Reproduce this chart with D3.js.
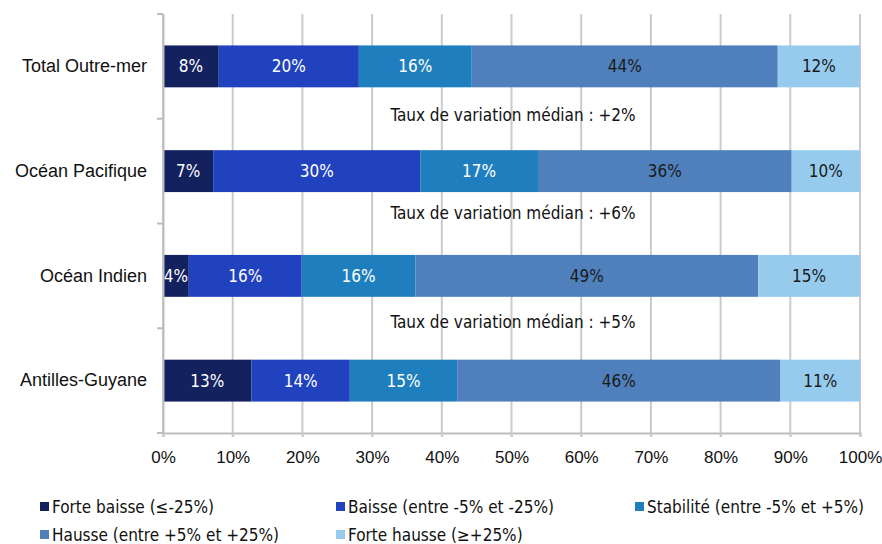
<!DOCTYPE html>
<html>
<head>
<meta charset="utf-8">
<script src="https://cdn.jsdelivr.net/npm/d3@7"></script>
<style>
  body { margin: 0; background: #fff; }
  svg { font-family: "DejaVu Sans Condensed", "DejaVu Sans", sans-serif; }
</style>
</head>
<body>
<div id="chart"></div>
<script>
// categories (top to bottom)
var categories = ['Total Outre-mer', 'Océan Pacifique', 'Océan Indien', 'Antilles-Guyane']
var seriesNames = [
  'Forte baisse (≤-25%)',
  'Baisse (entre -5% et -25%)',
  'Stabilité (entre -5% et +5%)',
  'Hausse (entre +5% et +25%)',
  'Forte hausse (≥+25%)'
]
// share of each series per category (%)
var forteBaisse  = [8.0, 7.2, 3.7, 12.7]
var baisse       = [20.1, 29.7, 16.2, 14.1]
var stabilite    = [16.2, 16.9, 16.3, 15.4]
var hausse       = [43.9, 36.4, 49.2, 46.4]
var forteHausse  = [11.8, 9.8, 14.6, 11.4]
var medianLabels = ['Taux de variation médian : +2%', 'Taux de variation médian : +6%', 'Taux de variation médian : +5%']
var xTicks = [0, 10, 20, 30, 40, 50, 60, 70, 80, 90, 100]

var colors = ['#13215f', '#2142be', '#1f7fbe', '#4f80bc', '#96cbee']
var labelColors = ['#fff', '#fff', '#fff', '#1a1a1a', '#1a1a1a']

var width = 882, height = 544
var margin = { left: 163, right: 22, top: 14, bottom: 111 }
var innerW = width - margin.left - margin.right
var innerH = height - margin.top - margin.bottom

var svg = d3.select('#chart').append('svg')
  .attr('width', width)
  .attr('height', height)

var g = svg.append('g')
  .attr('transform', 'translate(' + margin.left + ',' + margin.top + ')')

var xScale = d3.scaleLinear().domain([0, 100]).range([0, innerW])
var yScale = d3.scaleBand().domain(categories).range([0, innerH]).paddingInner(0.6).paddingOuter(0.3)

// gridlines
g.append('g')
  .selectAll('line')
  .data(xTicks)
  .enter()
  .append('line')
  .attr('x1', d => xScale(d)).attr('x2', d => xScale(d))
  .attr('y1', 0).attr('y2', innerH + 4)
  .attr('stroke', '#cbcbcb')
  .attr('stroke-width', 2)

// stacked bars
var table = categories.map(function (c, i) {
  return { cat: c, s0: forteBaisse[i], s1: baisse[i], s2: stabilite[i], s3: hausse[i], s4: forteHausse[i] }
})
var stack = d3.stack().keys(['s0', 's1', 's2', 's3', 's4'])(table)

stack.forEach(function (layer, k) {
  var lg = g.append('g')
  lg.selectAll('rect')
    .data(layer)
    .enter()
    .append('rect')
    .attr('x', d => xScale(d[0]))
    .attr('y', d => yScale(d.data.cat))
    .attr('width', d => xScale(d[1]) - xScale(d[0]))
    .attr('height', yScale.bandwidth())
    .attr('fill', colors[k])
  lg.selectAll('text')
    .data(layer)
    .enter()
    .append('text')
    .attr('x', d => (xScale(d[0]) + xScale(d[1])) / 2)
    .attr('y', d => yScale(d.data.cat) + yScale.bandwidth() / 2)
    .attr('dy', '0.36em')
    .attr('text-anchor', 'middle')
    .attr('font-size', 17)
    .attr('fill', labelColors[k])
    .text(d => Math.round(d[1] - d[0]) + '%')
})

// y axis
var yAxis = g.append('g')
  .call(d3.axisLeft(yScale).tickSize(0).tickPadding(16))
yAxis.select('.domain').attr('stroke', '#bdbdbd').attr('stroke-width', 2)
yAxis.selectAll('text').attr('font-size', 18).attr('fill', '#111').style('font-family', 'inherit')
// y tick marks between categories
g.append('g')
  .selectAll('line')
  .data(d3.range(categories.length + 1))
  .enter()
  .append('line')
  .attr('x1', -6).attr('x2', 0)
  .attr('y1', i => i * innerH / categories.length)
  .attr('y2', i => i * innerH / categories.length)
  .attr('stroke', '#bdbdbd')
  .attr('stroke-width', 2)

// x axis
var xAxis = g.append('g')
  .attr('transform', 'translate(0,' + innerH + ')')
  .call(d3.axisBottom(xScale).tickValues(xTicks).tickSize(4).tickPadding(14).tickFormat(d => d + '%'))
xAxis.select('.domain').attr('stroke', '#bdbdbd').attr('stroke-width', 2)
xAxis.selectAll('line').attr('stroke', '#cbcbcb').attr('stroke-width', 2)
xAxis.selectAll('text').attr('font-size', 17).attr('fill', '#111').style('font-family', 'inherit')

// median labels between bars
var medianY = [115, 213, 322]
svg.append('g')
  .selectAll('text')
  .data(medianLabels)
  .enter()
  .append('text')
  .attr('x', 513)
  .attr('y', (d, i) => medianY[i])
  .attr('dy', '0.36em')
  .attr('text-anchor', 'middle')
  .attr('font-size', 17)
  .attr('fill', '#111')
  .text(d => d)

// legend
var legendPos = [[40, 507], [336, 507], [635, 507], [40, 535], [336, 535]]
var legend = svg.append('g')
  .selectAll('g')
  .data(seriesNames)
  .enter()
  .append('g')
  .attr('transform', (d, i) => 'translate(' + legendPos[i][0] + ',' + legendPos[i][1] + ')')
legend.append('rect')
  .attr('x', 0).attr('y', -5)
  .attr('width', 9).attr('height', 9)
  .attr('fill', (d, i) => colors[i])
legend.append('text')
  .attr('x', 12)
  .attr('dy', '0.36em')
  .attr('font-size', 17)
  .attr('fill', '#111')
  .text(d => d)
</script>
</body>
</html>
